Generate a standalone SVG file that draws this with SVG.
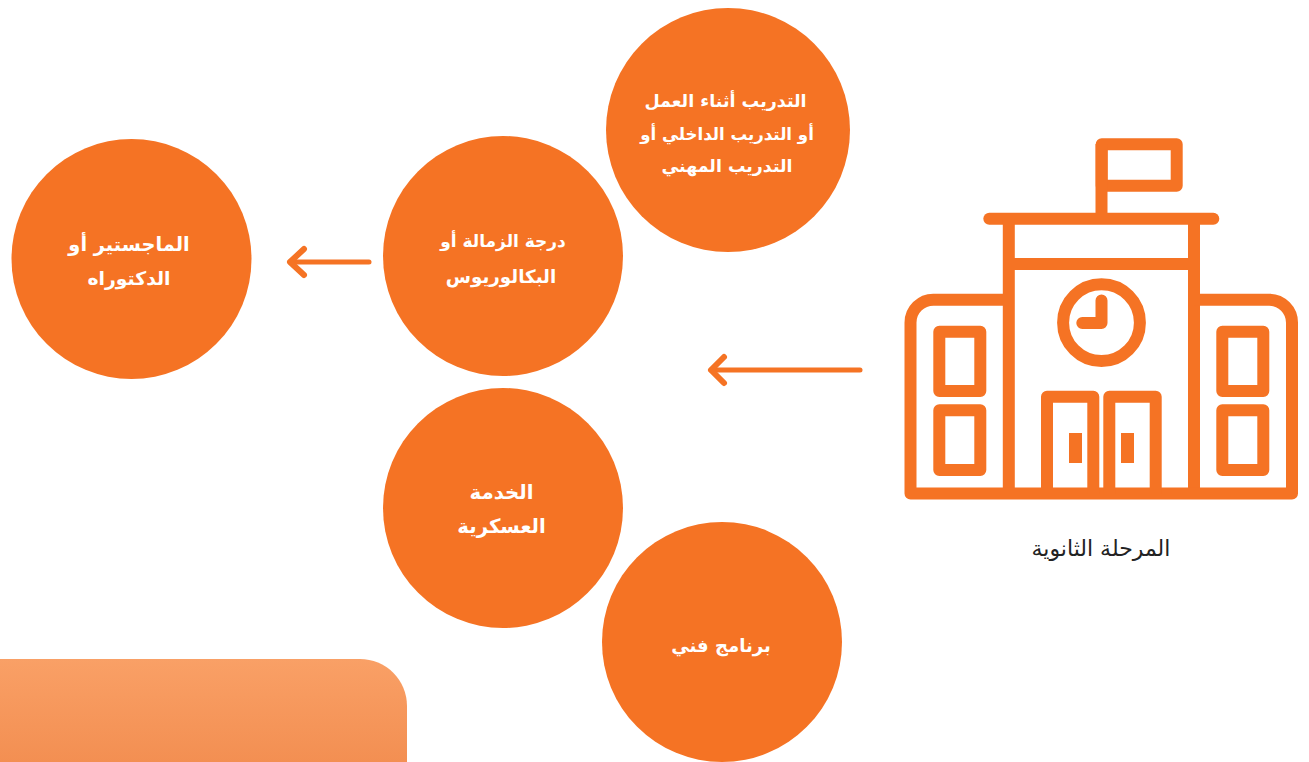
<svg xmlns="http://www.w3.org/2000/svg" width="1309" height="762" viewBox="0 0 1309 762">
<defs>
<linearGradient id="panel" x1="0" y1="0" x2="0" y2="1"><stop offset="0" stop-color="#f9a066"/><stop offset="1" stop-color="#f38f52"/></linearGradient>
</defs>
<style>
.c{fill:#f57324}
.t{font-family:"DejaVu Sans",sans-serif;font-weight:700;fill:#fff;text-anchor:middle;direction:rtl}
.s{fill:none;stroke:#f57324;stroke-width:12;stroke-linejoin:round;stroke-linecap:round}
.b{fill:none;stroke:#f57324;stroke-width:12;stroke-linejoin:round}
.a{fill:none;stroke:#f57324;stroke-width:5;stroke-linecap:round;stroke-linejoin:round}
.h{stroke-width:6}
</style>
<rect width="1309" height="762" fill="#fff"/>
<path id="panel-shape" d="M0 659H360A47 47 0 0 1 407 706V762H0Z" fill="url(#panel)"/>
<g id="node-masters"><circle class="c" cx="131.500" cy="259" r="120"/><text class="t" font-size="19.400" x="129" y="251">الماجستير أو</text><text class="t" font-size="18.800" x="129" y="285">الدكتوراه</text></g>
<g id="node-bachelor"><circle class="c" cx="503" cy="256" r="120"/><text class="t" font-size="17" x="503" y="247">درجة الزمالة أو</text><text class="t" font-size="18.300" x="501" y="283">البكالوريوس</text></g>
<g id="node-training"><circle class="c" cx="728" cy="130" r="122"/><text class="t" font-size="17.500" x="725.500" y="107">التدريب أثناء العمل</text><text class="t" font-size="16.600" x="727" y="140">أو التدريب الداخلي أو</text><text class="t" font-size="17.400" x="727" y="172">التدريب المهني</text></g>
<g id="node-military"><circle class="c" cx="503" cy="508" r="120"/><text class="t" font-size="19.800" x="501.500" y="499">الخدمة</text><text class="t" font-size="19.700" x="501.500" y="533">العسكرية</text></g>
<g id="node-technical"><circle class="c" cx="722" cy="642" r="120"/><text class="t" font-size="18.100" x="721" y="652">برنامج فني</text></g>
<g id="connectors">
<path class="a" d="M369 262H290"/>
<path class="a h" d="M304 249L290 262L304 275"/>
<path class="a" d="M860 370H711"/>
<path class="a h" d="M724 357L711 370L724 383"/>
</g>
<g id="node-school">
<rect class="b" x="1101.700" y="144.300" width="75" height="41.400"/>
<path class="b" d="M1101.500 144V219"/>
<path class="s" d="M989.300 218.700H1213.300"/>
<path class="b" d="M1008.800 219V494M1194 219V494M1009 264H1194"/>
<path class="b" d="M1009 299.700H934A23 23 0 0 0 910.500 323V493.600H1292V323A23 23 0 0 0 1269 299.700H1194"/>
<circle class="b" cx="1101.500" cy="322.700" r="38.400"/>
<path class="s" d="M1101.500 300.500V323H1082.300"/>
<rect class="b" x="939.300" y="331.700" width="41" height="59.300"/>
<rect class="b" x="939.300" y="410.300" width="41" height="59.700"/>
<rect class="b" x="1222.300" y="331.700" width="41" height="59.300"/>
<rect class="b" x="1222.300" y="410.300" width="41" height="59.700"/>
<path class="b" d="M1047 494V396.700H1093.300V494M1109.300 494V396.700H1155.700V494"/>
<rect class="c" x="1069" y="433" width="13" height="30"/>
<rect class="c" x="1121" y="433" width="13" height="30"/>
<text x="1101" y="556" style="font-family:'DejaVu Sans',sans-serif;font-size:22px;fill:#222;text-anchor:middle;direction:rtl">المرحلة الثانوية</text>
</g>
</svg>
